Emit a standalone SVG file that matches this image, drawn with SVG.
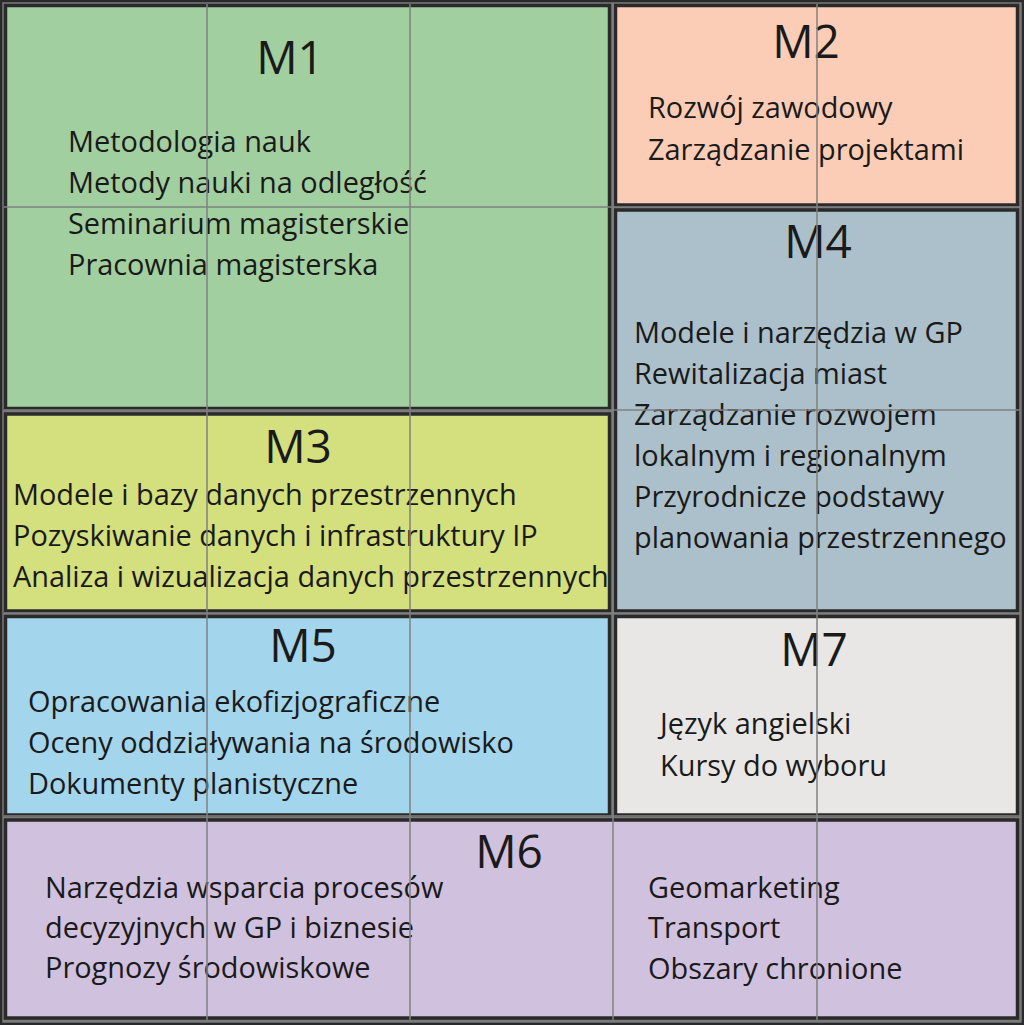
<svg xmlns="http://www.w3.org/2000/svg" width="1024" height="1025" viewBox="0 0 1024 1025">
<style>
.box{stroke:#2a2a2a;stroke-width:3.5}
.t{font-family:"Open Sans","Noto Sans",sans-serif;font-size:28.9px;fill:#1a1a1a}
.h{font-family:"Open Sans","Noto Sans",sans-serif;font-size:46px;fill:#1a1a1a;text-anchor:middle}
.g{stroke:#808080;stroke-width:1.5}
</style>
<rect x="0" y="0" width="1024" height="1025" fill="#7a7a7a"/>
<rect x="1" y="1" width="1022" height="1023" fill="none" stroke="#2a2a2a" stroke-width="2.5"/>
<g id="M1">
<rect class="box" x="5.5" y="5.5" width="604" height="403" fill="#a2cf9f"/>
<text class="h" x="290" y="74">M1</text>
<text class="t" x="68" y="152">Metodologia nauk</text>
<text class="t" x="68" y="193">Metody nauki na odległość</text>
<text class="t" x="68" y="234">Seminarium magisterskie</text>
<text class="t" x="68" y="275">Pracownia magisterska</text>
</g>
<g id="M2">
<rect class="box" x="615.5" y="5.5" width="402" height="199.5" fill="#fccdb6"/>
<text class="h" x="806" y="58">M2</text>
<text class="t" x="648" y="118">Rozwój zawodowy</text>
<text class="t" x="648" y="160">Zarządzanie projektami</text>
</g>
<g id="M4">
<rect class="box" x="615.5" y="210" width="402" height="401" fill="#abc0ca"/>
<text class="h" x="818" y="258">M4</text>
<text class="t" x="634" y="343">Modele i narzędzia w GP</text>
<text class="t" x="634" y="384">Rewitalizacja miast</text>
<text class="t" x="634" y="425">Zarządzanie rozwojem</text>
<text class="t" x="634" y="466">lokalnym i regionalnym</text>
<text class="t" x="634" y="507">Przyrodnicze podstawy</text>
<text class="t" x="634" y="548">planowania przestrzennego</text>
</g>
<g id="M3">
<rect class="box" x="5.5" y="414" width="604" height="197" fill="#d4df7e"/>
<text class="h" x="298" y="463">M3</text>
<text class="t" x="13" y="505">Modele i bazy danych przestrzennych</text>
<text class="t" x="13" y="546">Pozyskiwanie danych i infrastruktury IP</text>
<text class="t" x="13" y="587">Analiza i wizualizacja danych przestrzennych</text>
</g>
<g id="M5">
<rect class="box" x="5.5" y="616.5" width="604" height="198.5" fill="#a3d5ec"/>
<text class="h" x="303" y="662">M5</text>
<text class="t" x="28" y="712">Opracowania ekofizjograficzne</text>
<text class="t" x="28" y="753">Oceny oddziaływania na środowisko</text>
<text class="t" x="28" y="794">Dokumenty planistyczne</text>
</g>
<g id="M7">
<rect class="box" x="615.5" y="616.5" width="402" height="198.5" fill="#e8e7e5"/>
<text class="h" x="814" y="666">M7</text>
<text class="t" x="660" y="734">Język angielski</text>
<text class="t" x="660" y="776">Kursy do wyboru</text>
</g>
<g id="M6">
<rect class="box" x="5.5" y="820" width="1012" height="198" fill="#d0c1de"/>
<text class="h" x="509" y="868">M6</text>
<text class="t" x="45" y="898">Narzędzia wsparcia procesów</text>
<text class="t" x="45" y="938">decyzyjnych w GP i biznesie</text>
<text class="t" x="45" y="978">Prognozy środowiskowe</text>
<text class="t" x="648" y="898">Geomarketing</text>
<text class="t" x="648" y="938">Transport</text>
<text class="t" x="648" y="979">Obszary chronione</text>
</g>
<g id="grid">
<line class="g" x1="207" y1="4" x2="207" y2="1020"/>
<line class="g" x1="410" y1="4" x2="410" y2="1020"/>
<line class="g" x1="817" y1="4" x2="817" y2="1020"/>
<line class="g" x1="4" y1="207" x2="1020" y2="207"/>
<line class="g" x1="4" y1="410" x2="1020" y2="410"/>
<line class="g" x1="4" y1="613" x2="1020" y2="613"/>
<line class="g" x1="4" y1="816" x2="1020" y2="816"/>
<line class="g" x1="613" y1="4" x2="613" y2="1020"/>
</g>
</svg>
